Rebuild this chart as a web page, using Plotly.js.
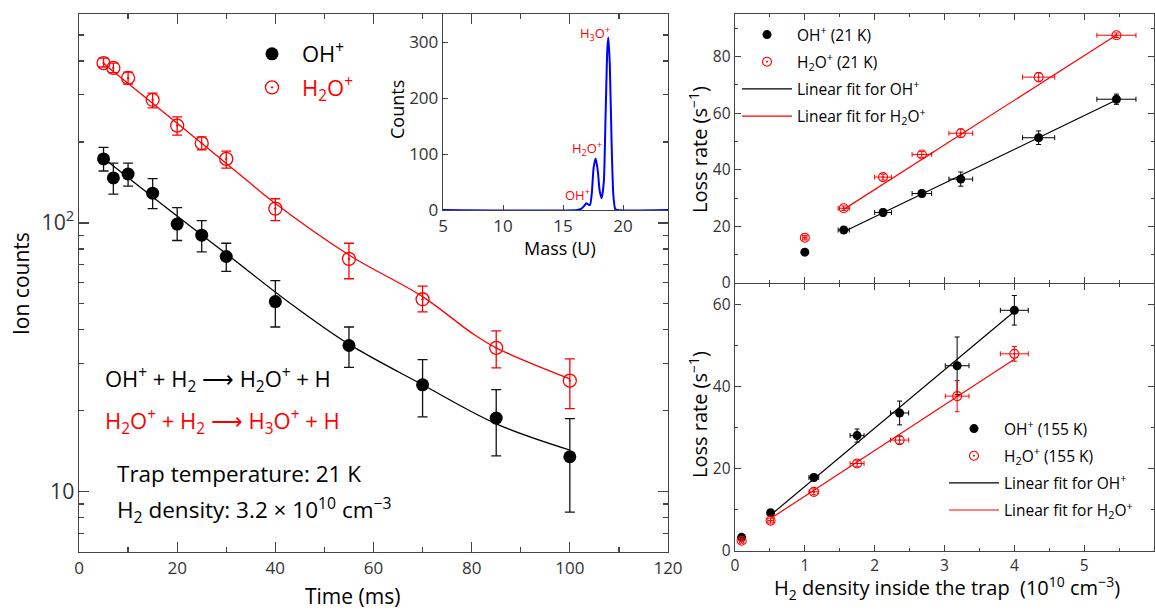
<!DOCTYPE html>
<html>
<head>
<meta charset="utf-8">
<script src="https://cdn.plot.ly/plotly-3.0.1.min.js"></script>
<style>html,body{margin:0;padding:0;background:#fff;}#chart{width:1155px;height:610px;}</style>
</head>
<body>
<div id="chart"></div>
<script>
// ---- Main panel: ion counts vs time ----
const timeMs = [5, 7, 10, 15, 20, 25, 30, 40, 55, 70, 85, 100];
const ohCounts = [173, 147, 152, 129, 99, 90, 75, 51, 35, 25, 18.8, 13.5];
const ohErrUp = [18, 20, 15, 17, 15, 12, 9, 10, 6, 6, 5.2, 5.2];
const ohErrDown = [17, 19, 15, 16, 13, 12, 9, 10, 6, 6, 5.2, 5.1];
const h2oCounts = [393, 377, 346, 287, 230, 198, 173, 113, 73.5, 52, 34.3, 25.9];
const h2oErrUp = [17, 16, 18, 17, 18, 11, 12, 10, 10.5, 6.2, 5.4, 5.3];
const h2oErrDown = [13, 15, 18, 19, 18, 11, 13, 11, 11.5, 5.3, 5.4, 5.5];
const ohFitT = [5, 20, 30, 43, 55, 70, 85, 100];
const ohFitY = [174, 106, 76.8, 50.3, 35.4, 25, 17.9, 14.3];
const h2oFitT = [5, 20, 34, 39, 55, 70, 80, 85, 100];
const h2oFitY = [392, 235, 145, 122, 76, 53.2, 39, 34.3, 26.3];

// ---- Inset: mass spectrum ----
const mass = [5, 16.2, 16.5, 16.75, 16.95, 17.1, 17.25, 17.4, 17.55, 17.72, 17.9, 18.05, 18.22, 18.4, 18.55, 18.7, 18.78, 18.9, 19.05, 19.2, 19.35, 19.5, 23.75];
const specCounts = [0, 0, 2, 7, 12, 10, 9, 30, 75, 92, 70, 35, 21, 50, 170, 290, 308, 260, 120, 25, 2, 0, 0];

// ---- Top right: 21 K ----
const dens21 = [1.0, 1.557, 2.12, 2.676, 3.233, 4.348, 5.462];
const dens21Err = [0.03, 0.08, 0.12, 0.14, 0.17, 0.23, 0.28];
const oh21 = [10.9, 18.7, 24.9, 31.6, 36.7, 51.3, 64.9];
const oh21Err = [0.6, 1.0, 1.2, 1.2, 2.5, 2.4, 1.8];
const h2o21 = [16.0, 26.4, 37.4, 45.4, 52.9, 72.7, 87.5];
const h2o21Err = [0.8, 0.8, 1.0, 1.0, 1.5, 1.6, 0.8];
const fit21X = [1.557, 5.462];
const ohFit21 = [18.1, 64.6];
const h2oFit21 = [26.0, 87.6];

// ---- Bottom right: 155 K ----
const dens155 = [0.095, 0.51, 1.129, 1.748, 2.357, 3.181, 4.0];
const dens155Err = [0.03, 0.04, 0.07, 0.1, 0.13, 0.17, 0.2];
const oh155 = [3.33, 9.3, 17.9, 28.1, 33.6, 45.1, 58.6];
const oh155Err = [0.5, 0.6, 0.8, 1.6, 2.9, 7, 3.6];
const h2o155 = [2.5, 7.4, 14.4, 21.3, 27.0, 37.7, 48.0];
const h2o155Err = [0.6, 0.6, 0.7, 0.8, 0.9, 3.8, 1.8];
const fit155X = [0.51, 4.0];
const ohFit155 = [8.75, 58.3];
const h2oFit155 = [7.9, 46.7];

const RED = '#ff0000';
const FONT = 'Open Sans, Noto Sans, sans-serif';
const W = 1155, H = 610;
const px = v => v / W;
const py = v => 1 - v / H;

const traces = [
  {x: ohFitT, y: ohFitY, mode: 'lines', line: {color: '#000', width: 1.3, shape: 'spline'}, xaxis: 'x', yaxis: 'y', showlegend: false, hoverinfo: 'skip'},
  {x: h2oFitT, y: h2oFitY, mode: 'lines', line: {color: RED, width: 1.3, shape: 'spline'}, xaxis: 'x', yaxis: 'y', showlegend: false, hoverinfo: 'skip'},
  {x: timeMs, y: ohCounts, name: 'OH<sup>+</sup>', mode: 'markers', marker: {color: '#000', size: 13, symbol: 'circle'},
   error_y: {type: 'data', array: ohErrUp, arrayminus: ohErrDown, color: '#111', thickness: 1.3, width: 5},
   xaxis: 'x', yaxis: 'y', legend: 'legend', legendgroup: 'a'},
  {x: timeMs, y: h2oCounts, name: '<span style="color:#ff0000">H<sub>2</sub>O<sup>+</sup></span>', mode: 'markers',
   marker: {color: RED, size: 13, symbol: 'circle-open-dot', line: {width: 1.3, color: RED}},
   error_y: {type: 'data', array: h2oErrUp, arrayminus: h2oErrDown, color: RED, thickness: 1.3, width: 5},
   xaxis: 'x', yaxis: 'y', legend: 'legend', legendgroup: 'b'},
  {x: mass, y: specCounts, mode: 'lines', line: {color: '#0000ff', width: 2, shape: 'spline', smoothing: 0.6}, xaxis: 'x2', yaxis: 'y2', showlegend: false, hoverinfo: 'skip'},
  {x: dens21, y: oh21, name: 'OH<sup>+</sup> (21 K)', mode: 'markers', marker: {color: '#000', size: 9},
   error_y: {type: 'data', array: oh21Err, color: '#000', thickness: 1, width: 2.5},
   error_x: {type: 'data', array: dens21Err, color: '#000', thickness: 1, width: 2.5},
   xaxis: 'x3', yaxis: 'y3', legend: 'legend2', legendgroup: 'c1'},
  {x: dens21, y: h2o21, name: 'H<sub>2</sub>O<sup>+</sup> (21 K)', mode: 'markers', marker: {color: RED, size: 9, symbol: 'circle-open-dot', line: {width: 1.1, color: RED}},
   error_y: {type: 'data', array: h2o21Err, color: RED, thickness: 1, width: 2.5},
   error_x: {type: 'data', array: dens21Err, color: RED, thickness: 1, width: 2.5},
   xaxis: 'x3', yaxis: 'y3', legend: 'legend2', legendgroup: 'c2'},
  {x: fit21X, y: ohFit21, name: 'Linear fit for OH<sup>+</sup>', mode: 'lines', line: {color: '#000', width: 1.2}, xaxis: 'x3', yaxis: 'y3', legend: 'legend2', legendgroup: 'c3'},
  {x: fit21X, y: h2oFit21, name: 'Linear fit for H<sub>2</sub>O<sup>+</sup>', mode: 'lines', line: {color: RED, width: 1.2}, xaxis: 'x3', yaxis: 'y3', legend: 'legend2', legendgroup: 'c4'},
  {x: fit155X, y: ohFit155, name: 'Linear fit for OH<sup>+</sup>', mode: 'lines', line: {color: '#000', width: 1.2}, xaxis: 'x4', yaxis: 'y4', legend: 'legend3', legendgroup: 'd3', legendrank: 3},
  {x: fit155X, y: h2oFit155, name: 'Linear fit for H<sub>2</sub>O<sup>+</sup>', mode: 'lines', line: {color: RED, width: 1.2}, xaxis: 'x4', yaxis: 'y4', legend: 'legend3', legendgroup: 'd4', legendrank: 4},
  {x: dens155, y: oh155, name: 'OH<sup>+</sup> (155 K)', mode: 'markers', marker: {color: '#000', size: 9},
   error_y: {type: 'data', array: oh155Err, color: '#000', thickness: 1, width: 2.5},
   error_x: {type: 'data', array: dens155Err, color: '#000', thickness: 1, width: 2.5},
   xaxis: 'x4', yaxis: 'y4', legend: 'legend3', legendgroup: 'd1', legendrank: 1},
  {x: dens155, y: h2o155, name: 'H<sub>2</sub>O<sup>+</sup> (155 K)', mode: 'markers', marker: {color: RED, size: 9, symbol: 'circle-open-dot', line: {width: 1.1, color: RED}},
   error_y: {type: 'data', array: h2o155Err, color: RED, thickness: 1, width: 2.5},
   error_x: {type: 'data', array: dens155Err, color: RED, thickness: 1, width: 2.5},
   xaxis: 'x4', yaxis: 'y4', legend: 'legend3', legendgroup: 'd2', legendrank: 2},
];

const axBase = {showline: true, linecolor: '#444', linewidth: 1.3, ticks: 'inside', tickcolor: '#444',
  showgrid: false, zeroline: false, mirror: 'allticks', tickfont: {family: FONT, size: 17, color: '#333'}};

function ann(text, x, y, size, color, extra) {
  return Object.assign({text: text, xref: 'paper', yref: 'paper', x: px(x), y: py(y), xanchor: 'center', yanchor: 'middle',
    showarrow: false, font: {family: FONT, size: size, color: color || '#000'}}, extra || {});
}

const layout = {
  width: W, height: H,
  margin: {l: 0, r: 0, t: 0, b: 0, autoexpand: false},
  paper_bgcolor: '#fff', plot_bgcolor: 'rgba(0,0,0,0)',
  font: {family: FONT, color: '#000'},
  xaxis: Object.assign({}, axBase, {domain: [px(79), px(668)], range: [0, 120], dtick: 20, ticklen: 10, tickwidth: 1.3,
    minor: {ticks: 'inside', ticklen: 5, dtick: 10, tickcolor: '#444', tickwidth: 1.2}, anchor: 'y'}),
  yaxis: Object.assign({}, axBase, {domain: [py(552), py(14)], type: 'log', range: [0.776, 2.777], dtick: 1,
    exponentformat: 'power', ticklen: 10, tickwidth: 1.3,
    minor: {ticks: 'inside', ticklen: 5, dtick: 'D1', tickcolor: '#444', tickwidth: 1.2}, anchor: 'x'}),
  xaxis2: Object.assign({}, axBase, {domain: [px(443), px(668)], range: [5, 23.75], dtick: 5, ticklen: 5, mirror: true, anchor: 'y2'}),
  yaxis2: Object.assign({}, axBase, {domain: [py(210), py(14)], range: [0, 350], dtick: 100, ticklen: 5, mirror: true, anchor: 'x2'}),
  xaxis3: Object.assign({}, axBase, {domain: [px(735), px(1154)], range: [0, 6], dtick: 1, ticklen: 6, showticklabels: false,
    minor: {ticks: 'inside', ticklen: 3, dtick: 0.5, tickcolor: '#444'}, anchor: 'y3'}),
  yaxis3: Object.assign({}, axBase, {domain: [py(283), py(14)], range: [0, 95], dtick: 20, ticklen: 6,
    tickfont: {family: FONT, size: 15.5, color: '#333'},
    minor: {ticks: 'inside', ticklen: 3, dtick: 10, tickcolor: '#444'}, anchor: 'x3'}),
  xaxis4: Object.assign({}, axBase, {domain: [px(735), px(1154)], range: [0, 6], dtick: 1, ticklen: 6,
    tickfont: {family: FONT, size: 15.5, color: '#333'},
    minor: {ticks: 'inside', ticklen: 3, dtick: 0.5, tickcolor: '#444'}, anchor: 'y4'}),
  yaxis4: Object.assign({}, axBase, {domain: [py(551), py(284)], range: [0, 65], dtick: 20, ticklen: 6,
    tickfont: {family: FONT, size: 15.5, color: '#333'},
    minor: {ticks: 'inside', ticklen: 3, dtick: 10, tickcolor: '#444'}, anchor: 'x4'}),
  legend: {x: px(242), y: py(33), xanchor: 'left', yanchor: 'top', bgcolor: 'rgba(0,0,0,0)', font: {family: FONT, size: 22, color: '#000'}, tracegroupgap: 2, itemwidth: 50},
  legend2: {x: px(737), y: py(18), xanchor: 'left', yanchor: 'top', bgcolor: 'rgba(0,0,0,0)', font: {family: FONT, size: 15.5, color: '#000'}, tracegroupgap: 4, itemwidth: 50},
  legend3: {x: px(944), y: py(412), xanchor: 'left', yanchor: 'top', bgcolor: 'rgba(0,0,0,0)', font: {family: FONT, size: 15.5, color: '#000'}, tracegroupgap: 4, itemwidth: 50},
  annotations: [
    ann('OH<sup>+</sup> + H<sub>2</sub> ⟶ H<sub>2</sub>O<sup>+</sup> + H', 103, 379, 22, '#000', {xanchor: 'left'}),
    ann('H<sub>2</sub>O<sup>+</sup> + H<sub>2</sub> ⟶ H<sub>3</sub>O<sup>+</sup> + H', 103, 422, 22, RED, {xanchor: 'left'}),
    ann('Trap temperature: 21 K', 115, 473, 22.5, '#000', {xanchor: 'left'}),
    ann('H<sub>2</sub> density: 3.2 × 10<sup>10</sup> cm<sup>−3</sup>', 115, 510, 22.5, '#000', {xanchor: 'left'}),
    ann('Ion counts', 21, 284, 21, '#000', {textangle: -90}),
    ann('Time (ms)', 352, 596, 21),
    ann('Counts', 397, 110, 18, '#000', {textangle: -90}),
    ann('Mass (U)', 560, 248, 18),
    {text: 'H<sub>3</sub>O<sup>+</sup>', xref: 'x2', yref: 'y2', x: 17.67, y: 316, showarrow: false, font: {family: FONT, size: 13, color: RED}},
    {text: 'H<sub>2</sub>O<sup>+</sup>', xref: 'x2', yref: 'y2', x: 17.0, y: 110, showarrow: false, font: {family: FONT, size: 13, color: RED}},
    {text: 'OH<sup>+</sup>', xref: 'x2', yref: 'y2', x: 16.17, y: 27, showarrow: false, font: {family: FONT, size: 13, color: RED}},
    ann('Loss rate (s<sup>−1</sup>)', 698, 150, 20, '#000', {textangle: -90}),
    ann('Loss rate (s<sup>−1</sup>)', 698, 415, 20, '#000', {textangle: -90}),
    ann('H<sub>2</sub> density inside the trap  (10<sup>10</sup> cm<sup>−3</sup>)', 947, 588, 20),
  ]
};

Plotly.newPlot('chart', traces, layout, {displayModeBar: false, staticPlot: true});
</script>
</body>
</html>
